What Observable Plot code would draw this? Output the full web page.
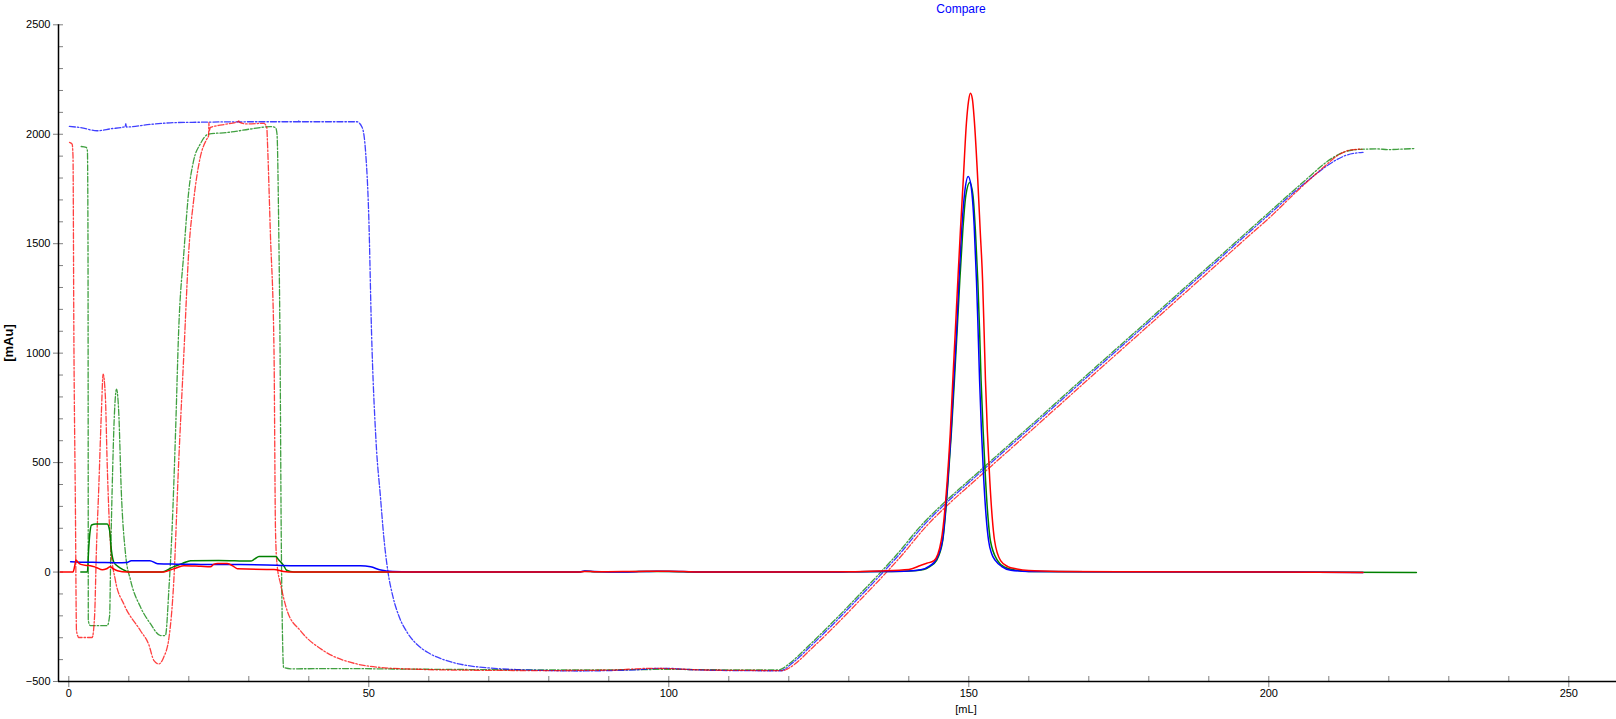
<!DOCTYPE html>
<html>
<head>
<meta charset="utf-8">
<script src="https://cdn.jsdelivr.net/npm/d3@7"></script>
<script src="https://cdn.jsdelivr.net/npm/@observablehq/plot@0.6"></script>
<style>
  body { margin: 0; background: #fff; }
  #wrap { position: relative; width: 1616px; height: 719px; font-family: "Liberation Sans", Arial, sans-serif; overflow: hidden; }
  .lbl { position: absolute; white-space: nowrap; line-height: 16px; }
  #title { top: 1px; left: 961px; transform: translateX(-50%); color: #0000ff; font-size: 12px; }
  #xlab { top: 701px; left: 966px; transform: translateX(-50%); color: #000; font-size: 11px; }
  #ylab { top: 343px; left: 9px; transform: translate(-50%, -50%) rotate(-90deg); color: #000; font-size: 13px; font-weight: bold; }
</style>
</head>
<body>
<div id="wrap">
  <div id="title" class="lbl">Compare</div>
  <div id="xlab" class="lbl">[mL]</div>
  <div id="ylab" class="lbl">[mAu]</div>
</div>
<script>
// ---- axis definitions ----
const xDomain = [-1.717, 257.95];
const yDomain = [-500, 2500];
const xMajorTicks = [0, 50, 100, 150, 200, 250];
const xMinorTicks = d3.range(0, 251, 10);
const yMajorTicks = [-500, 0, 500, 1000, 1500, 2000, 2500];
const yMinorTicks = d3.range(-500, 2501, 100);

// ---- series: [mL, mAu] ----
const blueUV = [[0.3,47],[2,45],[5,44],[8,43],[9.7,44],[10.4,52],[13.5,52],[14.8,38],[18,36],[22,35],[28.6,34],[33,32],[37,29],[44,29],[48.6,29],[50.3,24],[52,9],[54,2],[57,0],[85,0],[86,5],[87.5,2],[90,0],[95,2],[98,4],[102,3],[106,0],[125,0],[130,1],[135,2],[140,5],[142,10],[143.5,28],[144.45,52],[145.6,143],[146.5,417],[147,620],[147.5,874],[148,1120],[148.35,1331],[148.8,1560],[149.3,1730],[149.9,1807],[150.4,1760],[150.9,1580],[151.28,1331],[151.5,1150],[151.8,874],[152.1,650],[152.5,417],[152.9,250],[153.3,143],[153.8,85],[154.45,52],[155.5,25],[157,8],[160,3],[170,1],[200,0],[215.7,-2]];

const greenUV = [[2,0],[3.1,0],[3.3,100],[3.5,174],[3.8,215],[4.5,219],[6.4,219],[6.8,190],[7.1,100],[7.5,45],[8,30],[8.6,18],[9.5,5],[10,0],[15.5,0],[17.5,25],[19,40],[20.3,52],[25,53],[30.3,50],[31,60],[31.7,71],[34.5,71],[35,55],[35.8,30],[36.3,8],[37.5,0],[85,0],[86,4],[88,1],[95,2],[100,3],[105,0],[125,0],[130,1],[135,2],[140,5],[142.5,12],[143.5,25],[144.6,52],[145.65,143],[146.55,417],[147.1,640],[147.6,874],[148.05,1100],[148.5,1331],[149,1560],[149.5,1720],[150.17,1780],[150.7,1720],[151.1,1560],[151.5,1331],[151.8,1100],[152.05,874],[152.4,640],[152.8,417],[153.2,250],[153.6,143],[154.8,52],[156,22],[158,8],[160,3],[170,1],[200,0],[224.6,-2]];

const redUV = [[-1.4,0],[0.7,0],[1,30],[1.2,55],[1.5,45],[2,35],[3,30],[3.6,29],[4.5,22],[5.6,10],[6.3,15],[6.9,24],[7.4,15],[8.1,6],[9.7,0],[15.8,0],[17,10],[18,20],[19.2,29],[22,26],[23.6,24],[24.2,36],[24.8,39],[26.4,39],[27.5,25],[28.1,15],[33,12],[34.2,12],[35.8,3],[37.5,0],[85,0],[86,3],[88,1],[95,3],[100,4],[105,0],[125,0],[130,1],[135,5],[140,12],[141.95,30],[143,40],[144.2,52],[145.4,143],[146.4,417],[146.9,630],[147.33,874],[147.75,1100],[148.17,1331],[148.6,1560],[149.07,1788],[149.6,2050],[149.95,2150],[150.28,2187],[150.6,2160],[150.9,2070],[151.5,1788],[151.9,1560],[152.3,1331],[152.55,1100],[152.78,874],[153.1,640],[153.5,417],[153.9,250],[154.3,143],[155.3,52],[156.5,25],[158,14],[160,7],[165,3],[175,1],[200,0],[215.7,-2]];

const blueCond = [[0.1,2036],[2,2030],[4.7,2016],[7,2025],[9.4,2035],[9.5,2048],[9.6,2033],[13.6,2045],[17.5,2053],[22,2055],[30,2057],[38.3,2057],[38.35,2064],[38.4,2057],[48,2057],[48.9,2031],[49.45,1925],[50,1620],[50.45,1100],[51.2,600],[51.95,341],[52.5,160],[53.2,0],[54,-110],[55,-200],[56.5,-280],[58,-330],[60,-370],[63,-405],[66,-425],[70,-438],[75,-446],[80,-450],[85,-452],[90,-450],[95,-446],[98,-440],[100,-440],[103,-445],[110,-450],[118.7,-451],[119.4,-442],[120.4,-420],[121.9,-385],[123.4,-345],[125.4,-292],[128.4,-210],[131.4,-125],[135.4,-10],[138.4,80],[142.4,211],[146.4,320],[150.4,418],[155.4,540],[160.4,662],[165.4,785],[170.4,908],[175.4,1030],[180.4,1152],[185.4,1275],[190.4,1397],[195.4,1520],[200.4,1642],[204.4,1740],[207.4,1808],[209.4,1850],[211.4,1885],[213,1905],[214.5,1914],[215.7,1917]];

const greenCond = [[2.06,1944],[2.9,1940],[3.1,1925],[3.2,1500],[3.23,600],[3.25,-222],[3.6,-245],[6.4,-245],[6.8,-200],[7.0,100],[7.23,382],[7.6,720],[7.95,836],[8.34,720],[8.73,382],[9.45,84],[10.3,-38],[11.95,-160],[13.6,-236],[15.3,-290],[16.1,-290],[16.7,-70],[17.2,189],[17.8,646],[18.3,1095],[19.2,1468],[20,1742],[20.8,1879],[21.9,1955],[23.3,2001],[26.4,2008],[30.3,2024],[33.6,2035],[34.45,2031],[34.7,2001],[35,1544],[35.2,1050],[35.4,189],[35.6,-268],[35.8,-436],[37,-442],[45,-441],[55,-443],[65,-445],[80,-447],[95,-446],[100,-444],[105,-446],[118.3,-447],[119,-440],[120,-420],[121.5,-385],[123,-345],[125,-292],[128,-210],[131,-125],[135,-10],[138,80],[142,211],[146,320],[150,418],[155,540],[160,662],[165,785],[170,908],[175,1030],[180,1152],[185,1275],[190,1397],[195,1520],[200,1642],[204,1740],[207,1812],[209,1860],[211,1898],[212.5,1918],[214,1928],[216,1932],[218,1933],[220,1930],[222,1932],[224.5,1935]];

const redCond = [[0.12,1963],[0.56,1955],[0.7,1900],[0.84,1102],[1.1,300],[1.28,-268],[1.67,-299],[3.89,-299],[4.3,-200],[4.6,100],[4.99,382],[5.44,736],[5.72,904],[6.1,798],[6.4,493],[6.95,127],[7.78,-40],[9.17,-146],[11.95,-268],[13.3,-329],[14.2,-405],[15,-420],[15.8,-390],[16.7,-299],[17.5,-40],[18.3,493],[19.2,1011],[20,1468],[20.8,1696],[21.9,1894],[23,1978],[23.3,1993],[23.35,2054],[23.4,2015],[23.6,2031],[26,2045],[28.2,2058],[28.3,2065],[28.4,2055],[29.7,2047],[32.5,2050],[33,2031],[33.1,1970],[33.6,1544],[34.2,1011],[34.45,189],[34.7,37],[35.3,-55],[36.4,-177],[38.6,-268],[42.5,-360],[48,-420],[52,-436],[58,-444],[65,-448],[80,-450],[90,-448],[97,-440],[100,-441],[104,-446],[110,-449],[119,-450],[119.8,-442],[120.8,-425],[122.2,-392],[123.7,-352],[125.7,-300],[128.7,-218],[131.7,-133],[135.7,-18],[138.7,72],[142.7,203],[146.7,312],[150.7,410],[155.7,532],[160.7,654],[165.7,777],[170.7,900],[175.7,1022],[180.7,1144],[185.7,1267],[190.7,1389],[195.7,1512],[200.7,1634],[204.5,1735],[207.5,1810],[209.5,1858],[211.3,1900],[212.8,1922],[214.2,1930],[215.5,1932]];

const dash = "6,2,1.5,2";
const uvW = 1.5, condW = 1.3, condOp = 0.75;
const curve = "monotone-x";

const chart = Plot.plot({
  width: 1616,
  height: 719,
  marginLeft: 58,
  marginRight: 0,
  marginTop: 24.3,
  marginBottom: 38,
  x: { domain: xDomain },
  y: { domain: yDomain },
  style: { fontFamily: "'Liberation Sans', Arial, sans-serif", fontSize: "11px", background: "transparent", color: "black" },
  marks: [
    Plot.axisY({ ticks: yMajorTicks, tickFormat: d3.format("d"), tickSize: 5, tickPadding: 3, stroke: "#808080", fill: "black", label: null }),
    Plot.axisX({ ticks: xMajorTicks, tickFormat: d3.format("d"), tickSize: 6, tickPadding: 2, stroke: "#808080", fill: "black", label: null }),
    Plot.tickY(yMinorTicks, { y: d => d, stroke: "#808080", insetRight: 1553 }),
    Plot.tickX(xMinorTicks, { x: d => d, stroke: "#808080", insetTop: 651.7 }),
    Plot.line(greenCond, { x: d => d[0], y: d => d[1], stroke: "#008000", strokeWidth: condW, strokeOpacity: condOp, strokeDasharray: dash, curve }),
    Plot.line(blueCond, { x: d => d[0], y: d => d[1], stroke: "#0000ff", strokeWidth: condW, strokeOpacity: condOp, strokeDasharray: dash, curve }),
    Plot.line(redCond, { x: d => d[0], y: d => d[1], stroke: "#ff0000", strokeWidth: condW, strokeOpacity: condOp, strokeDasharray: dash, curve }),
    Plot.line(greenUV, { x: d => d[0], y: d => d[1], stroke: "#008000", strokeWidth: uvW, curve }),
    Plot.line(blueUV, { x: d => d[0], y: d => d[1], stroke: "#0000ff", strokeWidth: uvW, curve }),
    Plot.line(redUV, { x: d => d[0], y: d => d[1], stroke: "#ff0000", strokeWidth: uvW, curve }),
    Plot.ruleX([xDomain[0]], { stroke: "black", strokeWidth: 1.5 }),
    Plot.ruleY([yDomain[0]], { stroke: "black", strokeWidth: 1.5 })
  ]
});
chart.style.position = "absolute";
chart.style.left = "0";
chart.style.top = "0";
document.getElementById("wrap").prepend(chart);
</script>
</body>
</html>
